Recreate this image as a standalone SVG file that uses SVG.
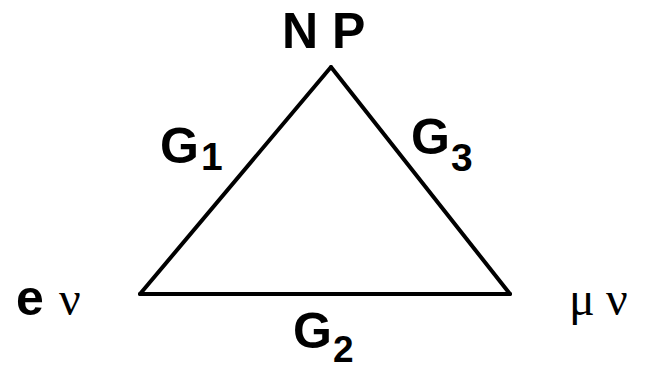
<svg xmlns="http://www.w3.org/2000/svg" width="645" height="371" viewBox="0 0 645 371">
<style>
.b{font-family:"Liberation Sans",Arial,sans-serif;font-weight:bold;fill:#000}
.s{font-family:"Liberation Serif","Times New Roman",serif;fill:#000}
.e{stroke:#000;stroke-width:4;stroke-linecap:round;fill:none}
</style>
<rect width="645" height="371" fill="#fff"/>
<g id="connectors">
<g id="edge-G1"><line class="e" x1="331" y1="67" x2="140" y2="294"/>
<text class="b" x="160" y="163" font-size="50">G</text><text class="b" x="201" y="170" font-size="39">1</text></g>
<g id="edge-G3"><line class="e" x1="331" y1="67" x2="510" y2="294"/>
<text class="b" x="411" y="154" font-size="50">G</text><text class="b" x="451" y="171" font-size="39">3</text></g>
<g id="edge-G2"><line class="e" x1="140" y1="294" x2="510" y2="294"/>
<text class="b" x="293" y="348" font-size="50">G</text><text class="b" x="333" y="362" font-size="37">2</text></g>
</g>
<g id="node-NP"><text class="b" x="282" y="48" font-size="50">N P</text></g>
<g id="node-enu"><text class="b" x="16" y="315" font-size="50">e</text><text class="s" x="59" y="315" font-size="48">ν</text></g>
<g id="node-munu"><text class="s" x="569" y="315" font-size="48">μ</text><text class="s" x="606" y="315" font-size="48">ν</text></g>
</svg>
